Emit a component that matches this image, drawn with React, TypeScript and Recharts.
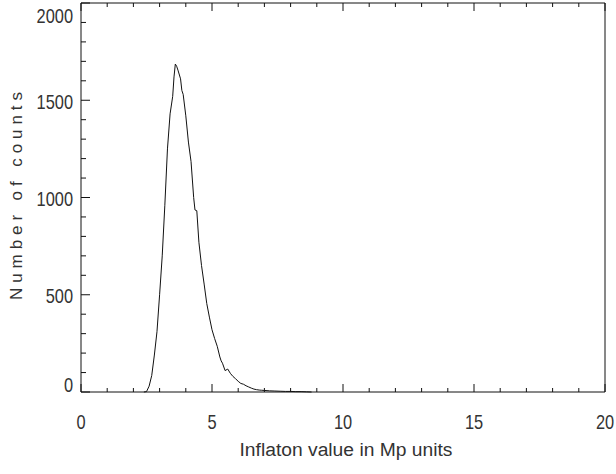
import { LineChart, Line, XAxis, YAxis, Label } from "recharts";

// histogram of inflaton values
const inflaton = [
  2.4, 2.5, 2.6, 2.7, 2.8, 2.9, 3.0, 3.1, 3.2, 3.3, 3.4, 3.5, 3.55, 3.6, 3.65, 3.7, 3.8, 3.85, 3.9,
  4.0, 4.1, 4.2, 4.3, 4.35, 4.42, 4.5, 4.6, 4.7, 4.8, 4.9, 5.0, 5.1, 5.2, 5.3, 5.35, 5.4, 5.5, 5.6,
  5.7, 5.8, 5.9, 6.0, 6.1, 6.2, 6.3, 6.4, 6.5, 6.6, 6.7, 6.8, 6.9, 7.0, 7.2, 7.4, 7.6, 7.8, 8.0,
  8.2, 8.4, 8.6, 8.8,
];
const counts = [
  0, 2, 30, 85, 190, 310, 500, 700, 960, 1250, 1430, 1520, 1620, 1686, 1675, 1655, 1610, 1550, 1530,
  1420, 1285, 1185, 1000, 936, 932, 770, 650, 555, 455, 385, 320, 275, 235, 180, 160, 148, 110, 118,
  96, 80, 68, 55, 44, 40, 32, 26, 20, 15, 12, 10, 9, 8, 6, 5, 4, 3, 3, 2, 2, 1, 0,
];

const xMajor = [0, 5, 10, 15, 20];
const yMajor = [0, 500, 1000, 1500, 2000];
const xTicks = Array.from({ length: 21 }, (_, i) => i);
const yTicks = Array.from({ length: 21 }, (_, i) => i * 100);

const data = inflaton.map((x, i) => ({ x, count: counts[i] }));

const FONT = "'Liberation Sans', Arial, sans-serif";
const INK = "#111";
const TEXT = "#333";

// narrow, thin digits like the plotting font of the original
const Num = ({ x, y, anchor, children }: any) => (
  <g transform={`translate(${x},${y}) scale(0.82,1)`}>
    <text x={0} y={0} textAnchor={anchor} fontSize={20} fontFamily={FONT} fill={TEXT}>
      {children}
    </text>
  </g>
);

const BottomTick = ({ x, y, payload }: any) => {
  const major = xMajor.includes(payload.value);
  return (
    <g>
      <line x1={x} x2={x} y1={y} y2={y - (major ? 8 : 4)} stroke={INK} />
      {major && (
        <Num x={x} y={y + 37} anchor="middle">
          {payload.value}
        </Num>
      )}
    </g>
  );
};

const TopTick = ({ x, y, payload }: any) => {
  const major = xMajor.includes(payload.value);
  return <line x1={x} x2={x} y1={y} y2={y + (major ? 8 : 4)} stroke={INK} />;
};

const LeftTick = ({ x, y, payload }: any) => {
  const major = yMajor.includes(payload.value);
  const dy = payload.value === 2000 ? 12 : payload.value === 0 ? -8 : 1;
  return (
    <g>
      <line x1={x} x2={x + (major ? 9 : 5)} y1={y} y2={y} stroke={INK} />
      {major && (
        <Num x={x - 8} y={y + dy + 7.5} anchor="end">
          {payload.value}
        </Num>
      )}
    </g>
  );
};

const RightTick = ({ x, y, payload }: any) => {
  const major = yMajor.includes(payload.value);
  return <line x1={x} x2={x - (major ? 9 : 5)} y1={y} y2={y} stroke={INK} />;
};

export default function App() {
  return (
    <div style={{ background: "#fff" }}>
      <style>{`body{margin:0;background:#fff}`}</style>
      <LineChart width={616} height={474} data={data} margin={{ top: 0, right: 0, bottom: 0, left: 0 }}>
        <XAxis
          xAxisId="bottom"
          dataKey="x"
          type="number"
          domain={[0, 20]}
          ticks={xTicks}
          interval={0}
          height={82}
          tickSize={0}
          tickMargin={0}
          tickLine={false}
          axisLine={{ stroke: INK }}
          tick={<BottomTick />}
        >
          <Label
            content={({ viewBox }: any) => (
              <text
                x={viewBox.x + viewBox.width / 2 + 3}
                y={456}
                textAnchor="middle"
                fontSize={18}
                fontFamily={FONT}
                textLength={213}
                lengthAdjust="spacingAndGlyphs"
                fill={TEXT}
              >
                Inflaton value in Mp units
              </text>
            )}
          />
        </XAxis>
        <XAxis
          xAxisId="top"
          orientation="top"
          dataKey="x"
          type="number"
          domain={[0, 20]}
          ticks={xTicks}
          interval={0}
          height={3}
          tickSize={0}
          tickMargin={0}
          tickLine={false}
          axisLine={{ stroke: INK }}
          tick={<TopTick />}
        />
        <YAxis
          yAxisId="left"
          type="number"
          domain={[0, 2000]}
          ticks={yTicks}
          interval={0}
          width={81}
          tickSize={0}
          tickMargin={0}
          tickLine={false}
          axisLine={{ stroke: INK }}
          tick={<LeftTick />}
        >
          <Label
            content={() => {
              const cx = 22;
              const cy = 196;
              return (
                <text
                  x={cx}
                  y={cy}
                  transform={`rotate(-90 ${cx} ${cy})`}
                  textAnchor="middle"
                  fontSize={17}
                  fontFamily={FONT}
                  textLength={208}
                  lengthAdjust="spacing"
                  fill={TEXT}
                >
                  Number of counts
                </text>
              );
            }}
          />
        </YAxis>
        <YAxis
          yAxisId="right"
          orientation="right"
          type="number"
          domain={[0, 2000]}
          ticks={yTicks}
          interval={0}
          width={11}
          tickSize={0}
          tickMargin={0}
          tickLine={false}
          axisLine={{ stroke: INK }}
          tick={<RightTick />}
        />
        <Line
          xAxisId="bottom"
          yAxisId="left"
          type="linear"
          dataKey="count"
          stroke={INK}
          strokeWidth={1}
          dot={false}
          isAnimationActive={false}
        />
      </LineChart>
    </div>
  );
}
